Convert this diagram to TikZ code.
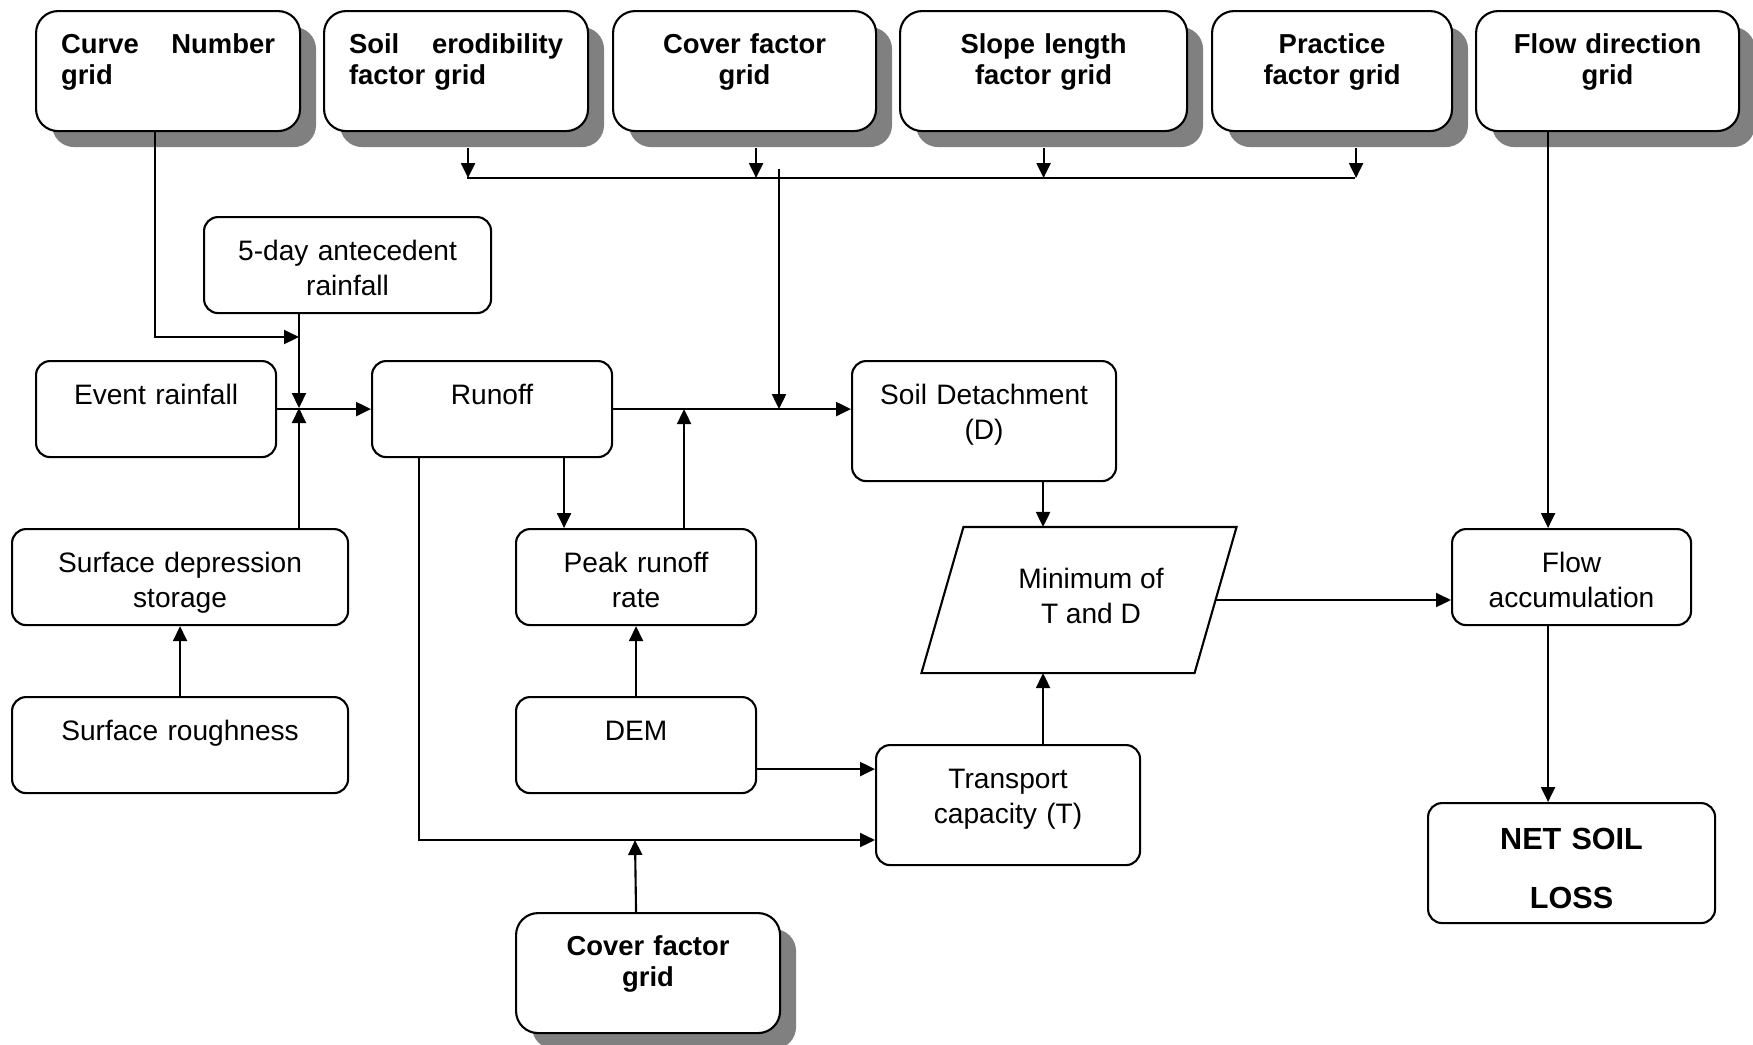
\documentclass[tikz,border=0pt]{standalone}
\usepackage{fontspec}
\setmainfont{Liberation Sans}
\usetikzlibrary{positioning, shadows, arrows.meta}

\begin{document}
\begin{tikzpicture}[x=1mm, y=-1mm, line width=0.6pt,
    >={Triangle[length=1.5mm, width=1.4mm]},
    procbox/.style={draw, rounded corners=1.4mm, inner xsep=1.5mm, inner ysep=0pt,
        anchor=north west, align=center, text height=4.35mm, text depth=5.25mm,
        font=\fontsize{8}{10}\selectfont},
    tall/.style={text depth=7.65mm},
    gridbox/.style={procbox, rounded corners=2.2mm, inner xsep=2.5mm, fill=white,
        text height=4.2mm, text depth=7.8mm,
        font=\fontsize{7.8}{8.8}\selectfont\bfseries,
        drop shadow={shadow xshift=1.6mm, shadow yshift=-1.6mm, fill=black!50, opacity=1}}]
\useasboundingbox (0,0) rectangle (175.3,104.4);

% input grids
\node[gridbox, text width=21.4mm, align=left] (curve) at (3.5,1.0) {Curve\hfill Number\\grid};
\node[gridbox, text width=21.4mm, align=left] (erod) at (32.3,1.0) {Soil\hfill erodibility\\factor grid};
\node[gridbox, text width=21.3mm] (coverA) at (61.2,1.0) {Cover factor\\grid};
\node[gridbox, text width=23.7mm] (slope) at (89.9,1.0) {Slope length\\factor grid};
\node[gridbox, text width=19.0mm] (practice) at (121.1,1.0) {Practice\\factor grid};
\node[gridbox, text width=21.3mm] (flowdir) at (147.5,1.0) {Flow direction\\grid};
\node[gridbox, text width=21.4mm] (coverB) at (51.5,91.2) {Cover factor\\grid};

% processes
\node[procbox, text width=25.7mm] (ante) at (20.3,21.6) {5-day antecedent\\rainfall};
\node[procbox, text width=21.0mm] (event) at (3.5,36.0) {Event rainfall};
\node[procbox, text width=21.0mm] (runoff) at (37.1,36.0) {Runoff};
\node[procbox, tall, text width=23.4mm] (detach) at (85.1,36.0) {Soil Detachment\\(D)};
\node[procbox, text width=30.6mm] (depress) at (1.1,52.8) {Surface depression\\storage};
\node[procbox, text width=21.0mm] (peak) at (51.5,52.8) {Peak runoff\\rate};
\node[procbox, text width=20.9mm] (flowacc) at (145.1,52.8) {Flow\\accumulation};
\node[procbox, text width=30.6mm] (rough) at (1.1,69.6) {Surface roughness};
\node[procbox, text width=21.0mm] (dem) at (51.5,69.6) {DEM};
\node[procbox, tall, text width=23.4mm] (transport) at (87.5,74.4) {Transport\\capacity (T)};
\node[procbox, tall, text width=25.7mm, text height=4.6mm, text depth=7.4mm,
    font=\fontsize{8.7}{16.8}\selectfont\bfseries] (net) at (142.7,80.2) {NET SOIL\\LOSS};

% minimum of T and D
\node[minimum width=27.1mm, minimum height=14.4mm, inner sep=0pt,
    label={[xshift=1.2mm, yshift=0.4mm, align=center, font=\fontsize{8}{10}\selectfont]center:Minimum of\\T and D}]
    (minTD) at (107.9,60.0) {};
\draw ([xshift=2.1mm]minTD.north west) -- ([xshift=2.1mm]minTD.north east)
    -- ([xshift=-2.1mm]minTD.south east) -- ([xshift=-2.1mm]minTD.south west) -- cycle;

% junctions
\coordinate (busL) at (46.7,17.8);
\coordinate (busR) at (135.5,17.8);
\coordinate (feed) at (77.9,16.9);
\coordinate (jIn) at (29.9,40.8);
\coordinate (jCN) at (29.9,33.7);
\coordinate (jCov) at (63.5,84.0);
\coordinate (fa) at ([xshift=-2.35mm]flowacc.north);

% factor grids to detachment
\draw (busL) -- (busR);
\draw[->] ([xshift=1.2mm, yshift=-1.6mm]erod.south) -- ([xshift=1.2mm]erod.south |- busL);
\draw[->] ([xshift=1.15mm, yshift=-1.6mm]coverA.south) -- ([xshift=1.15mm]coverA.south |- busL);
\draw[->] ([yshift=-1.6mm]slope.south) -- (slope.south |- busL);
\draw[->] ([xshift=2.4mm, yshift=-1.6mm]practice.south) -- ([xshift=2.4mm]practice.south |- busL);
\draw[->] (feed) -- (feed |- runoff.east);

% runoff inputs
\draw[->] ([xshift=-1.3mm]curve.south) |- (jCN);
\draw[->] (jIn |- ante.south) -- (jIn);
\draw[->] (jIn |- depress.north) -- (jIn);
\draw[->] (event.east) -- (runoff.west);
\draw[->] (rough) -- (depress);

% runoff and peak rate
\draw[->] (runoff.east) -- (runoff.east -| detach.west);
\draw[->] ([xshift=7.2mm]runoff.south) -- ([xshift=7.2mm]runoff.south |- peak.north);
\draw[->] ([xshift=4.8mm]peak.north) -- ([xshift=4.8mm]peak.north |- runoff.east);
\draw[->] (dem) -- (peak);

% transport capacity
\draw[->] ([yshift=-2.4mm]dem.east) -- ([yshift=-2.4mm]dem.east -| transport.west);
\draw[->] ([xshift=-7.3mm]runoff.south) |- (jCov -| transport.west);
\draw[->] ([xshift=-1.2mm]coverB.north) -- (jCov);

% soil loss
\draw[->] ([xshift=5.9mm]detach.south) -- ([xshift=5.9mm]detach.south |- minTD.north);
\draw[->] ([xshift=3.5mm]transport.north) -- ([xshift=3.5mm]transport.north |- minTD.south);
\draw[->] (minTD.east) -- (minTD.east -| flowacc.west);
\draw[->] (flowdir.south -| fa) -- (fa);
\draw[->] ([xshift=-2.35mm]flowacc.south) -- ([xshift=-2.35mm]flowacc.south |- net.north);
\end{tikzpicture}
\end{document}
